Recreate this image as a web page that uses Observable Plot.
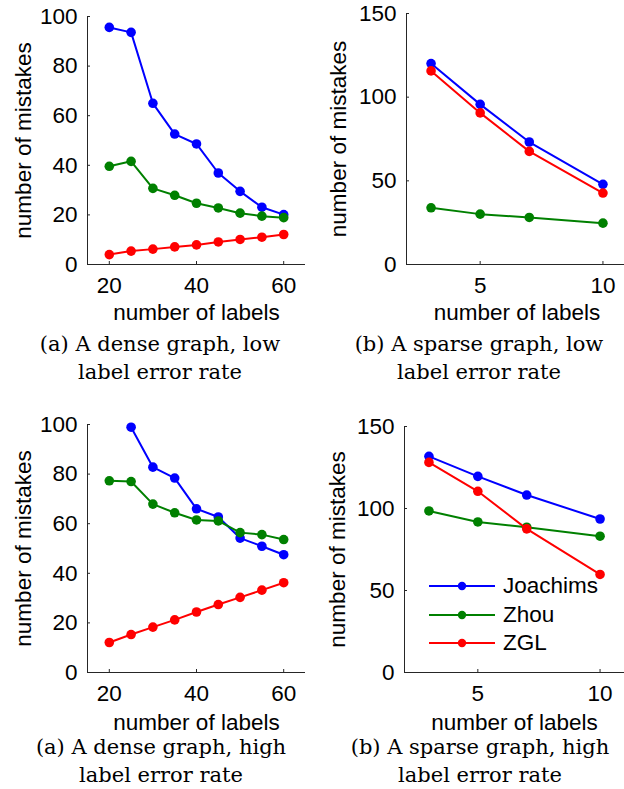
<!DOCTYPE html>
<html>
<head>
<meta charset="utf-8">
<script src="https://cdn.jsdelivr.net/npm/d3@7"></script>
<script src="https://cdn.jsdelivr.net/npm/@observablehq/plot@0.6"></script>
<style>
  html, body { margin: 0; padding: 0; background: #fff; }
  #root { position: relative; width: 624px; height: 789px; overflow: hidden; background: #fff; }
  .panel { position: absolute; }
  .panel svg { max-width: none !important; }
  .caption { position: absolute; width: 312px; text-align: center; font-family: "DejaVu Serif", "Liberation Serif", serif; font-size: 21px; line-height: 27.5px; color: #000; }
  .legend { position: absolute; font-family: "Liberation Sans", Arial, sans-serif; font-size: 22.5px; color: #000; }
  .legend .row { position: absolute; left: 0; height: 28px; display: flex; align-items: center; white-space: nowrap; }
  .legend svg { display: block; margin-right: 8px; }
</style>
</head>
<body>
<div id="root"></div>
<script>
// ---- data ----
const seriesNames = ["Joachims", "Zhou", "ZGL"];
const seriesColors = ["#0000ff", "#008000", "#ff0000"];

const xDense = [20, 25, 30, 35, 40, 45, 50, 55, 60];
const xSparse = [3, 5, 7, 10];

const denseLowJoachims = [95.6, 93.6, 65.0, 52.6, 48.6, 36.9, 29.5, 23.1, 20.1];
const denseLowZhou     = [39.6, 41.6, 30.7, 27.9, 24.7, 22.8, 20.7, 19.5, 18.9];
const denseLowZGL      = [4.0, 5.4, 6.2, 7.1, 7.9, 9.1, 10.1, 11.0, 12.1];

const sparseLowJoachims = [120.1, 95.7, 73.2, 47.9];
const sparseLowZhou     = [33.9, 30.1, 28.1, 24.7];
const sparseLowZGL      = [115.7, 90.6, 67.6, 42.7];

const denseHighJoachims = [null, 98.9, 82.8, 78.4, 66.0, 62.7, 54.2, 50.9, 47.5];
const denseHighZhou     = [77.3, 77.0, 67.9, 64.4, 61.5, 61.1, 56.4, 55.6, 53.6];
const denseHighZGL      = [12.1, 15.3, 18.3, 21.2, 24.4, 27.4, 30.3, 33.2, 36.2];

const sparseHighJoachims = [131.8, 119.6, 108.2, 93.6];
const sparseHighZhou     = [98.5, 91.8, 88.6, 83.1];
const sparseHighZGL      = [128.1, 110.5, 87.6, 59.8];

const denseXTicks = [20, 40, 60];
const sparseXTicks = [5, 10];
const denseYTicks = [0, 20, 40, 60, 80, 100];
const sparseYTicks = [0, 50, 100, 150];

const xLabel = "number of labels";
const yLabel = "number of mistakes";

const captions = [
  ["(a) A dense graph, low", "label error rate"],
  ["(b) A sparse graph, low", "label error rate"],
  ["(a) A dense graph, high", "label error rate"],
  ["(b) A sparse graph, high", "label error rate"]
];

// ---- drawing ----
const AXIS = "#262626";
const FONT = "'Liberation Sans', Arial, Helvetica, sans-serif";
const FS = 22.5;
const root = document.getElementById("root");

function panel(cfg) {
  const marks = [];
  // axis lines (box off: left + bottom)
  marks.push(Plot.ruleY([cfg.yDomain[0]], {stroke: AXIS, strokeWidth: 1}));
  marks.push(Plot.ruleX([cfg.xDomain[0]], {stroke: AXIS, strokeWidth: 1}));
  // inward tick marks
  marks.push(Plot.axisX(cfg.xTicks, {tickSize: -3, tickFormat: () => "", stroke: AXIS, label: null}));
  marks.push(Plot.axisY(cfg.yTicks, {tickSize: -3, tickFormat: () => "", stroke: AXIS, label: null}));
  // tick labels
  marks.push(Plot.axisX(cfg.xTicks, {tickSize: 0, tickPadding: 13, label: null, fill: "#000", fontSize: FS}));
  marks.push(Plot.axisY(cfg.yTicks, {tickSize: 0, tickPadding: 10, label: null, fill: "#000", fontSize: FS}));
  // axis titles
  marks.push(Plot.text([xLabel], {frameAnchor: "bottom", textAnchor: "middle", dy: cfg.xLabelDy, lineAnchor: "middle", fontSize: FS, fill: "#000"}));
  marks.push(Plot.text([yLabel], {frameAnchor: "left", textAnchor: "middle", dx: cfg.yLabelDx, rotate: -90, lineAnchor: "middle", fontSize: FS, fill: "#000"}));
  // series
  cfg.series.forEach((vals, si) => {
    const data = cfg.xs.map((x, i) => ({x, y: vals[i], name: seriesNames[si]}));
    marks.push(Plot.line(data, {x: "x", y: "y", stroke: seriesColors[si], strokeWidth: 2}));
    marks.push(Plot.dot(data.filter(d => d.y != null), {x: "x", y: "y", fill: seriesColors[si], r: 4.8}));
  });
  const svg = Plot.plot({
    width: cfg.width,
    height: cfg.height,
    marginLeft: cfg.margin[0],
    marginRight: cfg.margin[1],
    marginTop: cfg.margin[2],
    marginBottom: cfg.margin[3],
    x: {domain: cfg.xDomain},
    y: {domain: cfg.yDomain},
    style: {fontFamily: FONT, fontSize: FS + "px", background: "transparent", overflow: "visible", color: "#000", maxWidth: "none"},
    marks
  });
  svg.style.maxWidth = "none";
  svg.style.width = cfg.width + "px";
  svg.style.height = cfg.height + "px";
  const div = document.createElement("div");
  div.className = "panel";
  div.style.left = cfg.left + "px";
  div.style.top = cfg.top + "px";
  div.style.width = cfg.width + "px";
  div.style.height = cfg.height + "px";
  div.appendChild(svg);
  root.appendChild(div);
}

panel({left: 0, top: 0, width: 312, height: 330, margin: [87, 7, 16, 66],
  xs: xDense, xDomain: [15, 65], yDomain: [0, 100], xTicks: denseXTicks, yTicks: denseYTicks,
  series: [denseLowJoachims, denseLowZhou, denseLowZGL], xLabelDy: 48, yLabelDx: -64});
panel({left: 312, top: 0, width: 320, height: 330, margin: [94, 5, 13, 66],
  xs: xSparse, xDomain: [2, 11], yDomain: [0, 150], xTicks: sparseXTicks, yTicks: sparseYTicks,
  series: [sparseLowJoachims, sparseLowZhou, sparseLowZGL], xLabelDy: 48, yLabelDx: -68});
panel({left: 0, top: 400, width: 312, height: 340, margin: [87, 7, 24, 68],
  xs: xDense, xDomain: [15, 65], yDomain: [0, 100], xTicks: denseXTicks, yTicks: denseYTicks,
  series: [denseHighJoachims, denseHighZhou, denseHighZGL], xLabelDy: 50, yLabelDx: -64});
panel({left: 312, top: 400, width: 320, height: 340, margin: [92, 8, 26, 68],
  xs: xSparse, xDomain: [2, 11], yDomain: [0, 150], xTicks: sparseXTicks, yTicks: sparseYTicks,
  series: [sparseHighJoachims, sparseHighZhou, sparseHighZGL], xLabelDy: 50, yLabelDx: -67});

// captions
const capPos = [[4, 331], [323, 331], [5, 734], [324, 734]];
captions.forEach((lines, i) => {
  const d = document.createElement("div");
  d.className = "caption";
  d.style.left = capPos[i][0] + "px";
  d.style.top = capPos[i][1] + "px";
  d.innerHTML = lines.map(l => `<div>${l}</div>`).join("");
  root.appendChild(d);
});

// legend (bottom-right panel)
const legend = document.createElement("div");
legend.className = "legend";
legend.style.left = "429px";
legend.style.top = "572px";
seriesNames.forEach((name, i) => {
  const row = document.createElement("div");
  row.className = "row";
  row.style.top = (i * 28.5) + "px";
  row.innerHTML = `<svg width="66" height="12"><line x1="0" y1="6" x2="66" y2="6" stroke="${seriesColors[i]}" stroke-width="2"/><circle cx="33" cy="6" r="4.2" fill="${seriesColors[i]}"/></svg><span>${name}</span>`;
  legend.appendChild(row);
});
root.appendChild(legend);
</script>
</body>
</html>
